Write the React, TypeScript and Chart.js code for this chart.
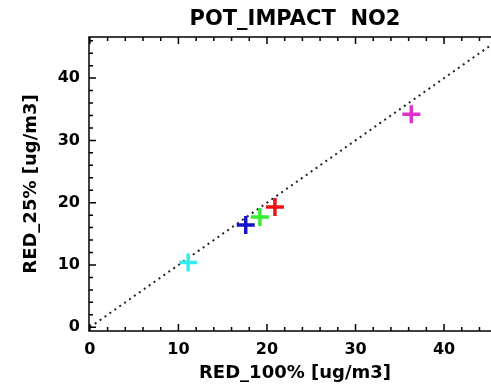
import React, { useEffect, useRef } from "react";
import { Chart, registerables } from "chart.js";

Chart.register(...registerables);

// ---- data ----
const red100: number[] = [11.1, 17.6, 19.2, 20.9, 36.3]; // x: RED_100%
const red25: number[] = [10.4, 16.4, 17.7, 19.3, 34.2]; // y: RED_25%
const pointColors: string[] = ["#33eeee", "#1414c8", "#33ee33", "#ee1414", "#dd33cc"];
const oneToOne: number[] = [0, 60]; // 1:1 reference line end points
const xTickValues: number[] = [0, 10, 20, 30, 40];
const yTickValues: number[] = [0, 10, 20, 30, 40];
const minorStep = 2;
const majorStep = 10;

const titleText = "POT_IMPACT  NO2";
const xTitle = "RED_100% [ug/m3]";
const yTitle = "RED_25% [ug/m3]";

const FONT = "'DejaVu Sans', sans-serif";

const framePlugin = {
  id: "idlFrame",
  afterDraw(chart: any) {
    const { ctx, chartArea } = chart;
    const { left, right, top, bottom } = chartArea;
    const xs = chart.scales.x;
    const ys = chart.scales.y;
    ctx.save();
    ctx.strokeStyle = "#000";
    ctx.lineWidth = 1.5;
    ctx.strokeRect(left, top, right - left, bottom - top);
    ctx.beginPath();
    for (let v = 0; v <= xs.max; v += minorStep) {
      const p = xs.getPixelForValue(v);
      if (p < left || p > right) continue;
      const len = v % majorStep === 0 ? 7 : 4;
      ctx.moveTo(p, bottom);
      ctx.lineTo(p, bottom - len);
      ctx.moveTo(p, top);
      ctx.lineTo(p, top + len);
    }
    for (let v = 0; v <= ys.max; v += minorStep) {
      const p = ys.getPixelForValue(v);
      if (p < top || p > bottom) continue;
      const len = v % majorStep === 0 ? 7 : 4;
      ctx.moveTo(left, p);
      ctx.lineTo(left + len, p);
      ctx.moveTo(right, p);
      ctx.lineTo(right - len, p);
    }
    ctx.stroke();
    ctx.restore();
  },
};

export default function App() {
  const ref = useRef<HTMLCanvasElement | null>(null);

  useEffect(() => {
    if (!ref.current) return;
    const chart = new Chart(ref.current, {
      type: "scatter",
      data: {
        datasets: [
          {
            type: "scatter",
            data: red100.map((x, i) => ({ x, y: red25[i] })),
            pointStyle: "cross",
            pointRadius: 9,
            pointHoverRadius: 9,
            pointBorderWidth: 3.5,
            pointBorderColor: pointColors,
            pointBackgroundColor: pointColors,
          } as any,
          {
            type: "line",
            data: oneToOne.map((v) => ({ x: v, y: v })),
            borderColor: "#222",
            borderWidth: 2,
            borderDash: [2, 4],
            pointRadius: 0,
            fill: false,
          } as any,
        ],
      },
      options: {
        animation: false,
        responsive: false,
        devicePixelRatio: 1,
        layout: { padding: { left: 0, right: 10, top: 0, bottom: 0 } },
        plugins: {
          legend: { display: false },
          tooltip: { enabled: false },
          title: {
            display: true,
            text: titleText,
            color: "#000",
            font: { family: FONT, size: 21, weight: "bold", lineHeight: 1.2 },
            padding: { top: 7, bottom: 4.8 },
          },
          subtitle: {
            display: true,
            position: "bottom",
            text: xTitle,
            color: "#000",
            font: { family: FONT, size: 18, weight: "bold", lineHeight: 1.2 },
            padding: { top: 0, bottom: 2.2 },
          },
        },
        scales: {
          x: {
            type: "linear",
            min: -0.1,
            max: 56.2,
            grid: { display: false, drawTicks: false },
            border: { display: false },
            ticks: {
              color: "#000",
              padding: 9,
              font: { family: FONT, size: 16, weight: "bold" },
            },
            afterBuildTicks: (s: any) => {
              s.ticks = xTickValues.map((value) => ({ value }));
            },
            afterFit: (s: any) => {
              s.height = 31.2;
            },
          },
          y: {
            type: "linear",
            min: -0.6,
            max: 46.6,
            grid: { display: false, drawTicks: false },
            border: { display: false },
            ticks: {
              color: "#000",
              padding: 9,
              font: { family: FONT, size: 16, weight: "bold" },
            },
            afterBuildTicks: (s: any) => {
              s.ticks = yTickValues.map((value) => ({ value }));
            },
            afterFit: (s: any) => {
              s.width = 89;
            },
            title: {
              display: true,
              text: yTitle,
              color: "#000",
              font: { family: FONT, size: 18, weight: "bold", lineHeight: 1.2 },
              padding: { top: 21, bottom: 0 },
            },
          },
        },
      },
      plugins: [framePlugin],
    });
    return () => chart.destroy();
  }, []);

  return (
    <div
      style={{
        position: "absolute",
        left: 0,
        top: 0,
        width: 491,
        height: 386,
        overflow: "hidden",
        background: "#fff",
      }}
    >
      <canvas ref={ref} width={600} height={386} style={{ display: "block" }} />
    </div>
  );
}
